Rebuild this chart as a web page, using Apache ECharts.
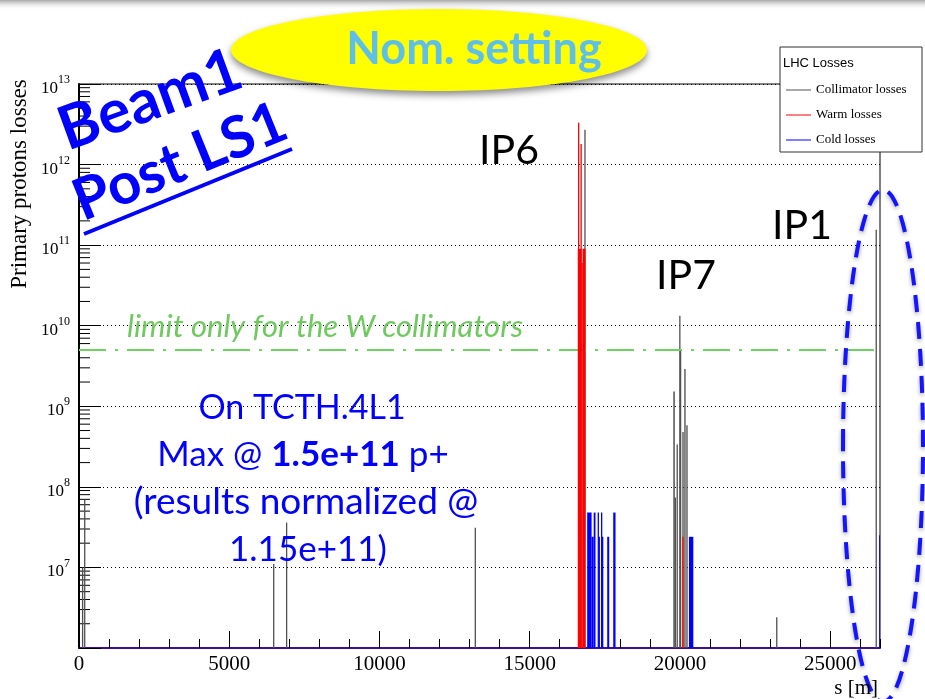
<!DOCTYPE html>
<html><head><meta charset="utf-8">
<script src="https://cdn.jsdelivr.net/npm/echarts@6/dist/echarts.min.js"></script>
<style>html,body{margin:0;padding:0;background:#fff}#c{width:925px;height:699px}</style>
</head><body><div id="c"></div>
<script>
// ---- data ----
const S_MAX = 26659;              // LHC circumference [m]
const Y_MIN = 1e6, Y_MAX = 1e13;
const xMajorTicks = [0, 5000, 10000, 15000, 20000, 25000];
const yDecades = [1e6, 1e7, 1e8, 1e9, 1e10, 1e11, 1e12, 1e13];
const wLimit = 5e9;               // limit only for the W collimators

// [s start, s end, losses]
const collimatorLosses = [
  [100, 140, 1.0e7], [190, 190, 6.9e7],
  [6480, 6480, 1.1e7], [6910, 6910, 3.6e7],
  [13190, 13190, 3.1e7],
  [16830, 16850, 2.7e12],
  [19780, 19830, 1.53e9], [19835, 19860, 7.4e7],
  [19890, 19930, 3.35e8], [19990, 20005, 1.33e10], [20005, 20040, 5.1e9],
  [20080, 20125, 4.8e8], [20145, 20190, 2.9e9], [20213, 20257, 5.8e8],
  [23223, 23223, 2.4e6],
  [26534, 26534, 1.55e11]
];
const warmLosses = [
  [16600, 16725, 9e10], [16725, 16760, 6e10], [16760, 16857, 9e10],
  [16620, 16640, 3.3e12], [16700, 16725, 1.8e12],
  [20095, 20105, 2.4e7]
];
const coldLosses = [
  [16913, 17060, 4.8e7], [17060, 17130, 2.4e7], [17130, 17190, 4.8e7],
  [17267, 17300, 4.8e7], [17300, 17333, 2.4e7],
  [17380, 17410, 4.8e7], [17410, 17447, 2.4e7],
  [17580, 17647, 2.4e7],
  [17780, 17857, 4.8e7],
  [20300, 20446, 2.4e7],
  [26645, 26659, 2.5e7]
];
const yMinorTicks = [];
yDecades.slice(0, -1).forEach(d => { for (let k = 2; k <= 9; k++) yMinorTicks.push([0, k * d]); });

// ---- chart ----
const chart = echarts.init(document.getElementById('c'));
const SERIF = 'Liberation Serif';
const C_COLL = '#505050', C_WARM = '#ff0000', C_COLD = '#0000ff';

function spikeRender(color) {
  return function (params, api) {
    const top = api.coord([api.value(0), api.value(2)]);
    const bot = api.coord([api.value(1), Y_MIN]);
    let x0 = top[0], w = bot[0] - top[0];
    if (w < 1.3) { x0 -= (1.3 - w) / 2; w = 1.3; }
    return { type: 'rect', shape: { x: x0, y: top[1], width: w, height: bot[1] - top[1] }, style: { fill: color } };
  };
}
function spikeSeries(name, data, color, z) {
  return { name, type: 'custom', data, encode: { x: [0, 1], y: 2 }, renderItem: spikeRender(color), clip: true, z, silent: true };
}

const option = {
  animation: false,
  backgroundColor: '#fff',
  grid: { left: 79, right: 45, top: 84, bottom: 51, show: true, borderColor: '#000', borderWidth: 1, backgroundColor: 'transparent' },
  xAxis: [{
    type: 'value', min: 0, max: S_MAX, interval: 5000, position: 'bottom',
    axisLine: { show: true, lineStyle: { color: '#40108f', width: 2 } },
    axisTick: { show: true, inside: true, length: 17, lineStyle: { color: '#000', width: 1 } },
    axisLabel: { color: '#000', fontFamily: SERIF, fontSize: 21, margin: 6, showMaxLabel: false,
      formatter: v => xMajorTicks.includes(v) ? String(v) : '' },
    splitLine: { show: false }
  }, {
    type: 'value', min: 0, max: S_MAX, interval: 1000, position: 'bottom',
    axisLine: { show: false }, axisLabel: { show: false }, splitLine: { show: false },
    axisTick: { show: true, inside: true, length: 9, lineStyle: { color: '#000', width: 1 } }
  }],
  yAxis: {
    type: 'log', logBase: 10, min: Y_MIN, max: Y_MAX, splitNumber: 7,
    axisLine: { show: true, lineStyle: { color: '#000', width: 2 } },
    axisTick: { show: true, inside: true, length: 22, lineStyle: { color: '#000', width: 1 } },
    splitLine: { show: true, lineStyle: { color: '#000', width: 1, type: [1, 3] } },
    axisLabel: {
      margin: 9, color: '#000',
      formatter: v => {
        const e = Math.round(Math.log10(v));
        if (e === 6) return '';
        return '{b|10}{s|' + e + '}';
      },
      rich: {
        b: { fontFamily: SERIF, fontSize: 17, color: '#000', lineHeight: 20, padding: [9, 0, 0, 0] },
        s: { fontFamily: SERIF, fontSize: 12, color: '#000', lineHeight: 14, verticalAlign: 'top' }
      }
    }
  },
  series: [
    { type: 'custom', name: 'minor', data: yMinorTicks, encode: { x: 0, y: 1 }, silent: true, z: 3,
      renderItem: (p, api) => { const c = api.coord([api.value(0), api.value(1)]);
        return { type: 'line', shape: { x1: c[0], y1: c[1], x2: c[0] + 11, y2: c[1] }, style: { stroke: '#000', lineWidth: 1 } }; } },
    spikeSeries('Collimator losses', collimatorLosses, C_COLL, 4),
    spikeSeries('Warm losses', warmLosses, C_WARM, 5),
    spikeSeries('Cold losses', coldLosses, C_COLD, 6),
    { type: 'line', name: 'limit', data: [], silent: true, z: 7,
      markLine: { symbol: 'none', silent: true, label: { show: false },
        lineStyle: { color: '#72cf66', width: 2, type: [27, 9, 3, 9] }, data: [{ yAxis: wLimit }] } }
  ],
  graphic: [
    // top shading
    { type: 'rect', z: 100, shape: { x: 0, y: 0, width: 925, height: 10 },
      style: { fill: new echarts.graphic.LinearGradient(0, 0, 0, 1, [{ offset: 0, color: '#a8a8a8' }, { offset: 1, color: 'rgba(255,255,255,0)' }]) } },
    // Nom. setting ellipse
    { type: 'ellipse', z: 100, shape: { cx: 439, cy: 50, rx: 208, ry: 41 },
      style: { fill: '#ffff00', shadowBlur: 7, shadowOffsetY: 4, shadowColor: 'rgba(0,0,0,0.45)' } },
    { type: 'text', z: 101, style: { text: 'Nom. setting', x: 474, y: 49, align: 'center', verticalAlign: 'middle',
      font: 'bold 45px Lato', fill: '#5ec0e8' } },
    // Beam1 / Post LS1
    { type: 'text', z: 101, x: 150, y: 100, rotation: 20 * Math.PI / 180,
      style: { text: 'Beam1', x: 0, y: 0, align: 'center', verticalAlign: 'middle', font: 'bold 61px Lato', fill: '#0000ff' } },
    { type: 'text', z: 101, x: 180, y: 162, rotation: 22 * Math.PI / 180,
      style: { text: 'Post LS1', x: 0, y: 0, align: 'center', verticalAlign: 'middle', font: 'bold 58px Lato', fill: '#0000ff' } },
    { type: 'line', z: 101, shape: { x1: 84, y1: 234, x2: 292, y2: 149 }, style: { stroke: '#0000ff', lineWidth: 4 } },
    // IP labels
    { type: 'text', z: 101, style: { text: 'IP6', x: 509, y: 151, align: 'center', verticalAlign: 'middle', font: '41px Lato', fill: '#000' } },
    { type: 'text', z: 101, style: { text: 'IP7', x: 686, y: 276, align: 'center', verticalAlign: 'middle', font: '41px Lato', fill: '#000' } },
    { type: 'text', z: 101, style: { text: 'IP1', x: 802, y: 226, align: 'center', verticalAlign: 'middle', font: '41px Lato', fill: '#000' } },
    // limit text
    { type: 'text', z: 101, style: { text: 'limit only for the W collimators', x: 127, y: 327, align: 'left', verticalAlign: 'middle',
      font: 'italic 31px Lato', fill: '#70c860' } },
    // TCTH note
    { type: 'text', z: 101, style: { text: 'On TCTH.4L1', x: 302, y: 408, align: 'center', verticalAlign: 'middle', font: '34px Lato', fill: '#0000ff' } },
    { type: 'text', z: 101, style: { text: '{n|Max @ }{b|1.5e+11}{n| p+}', x: 303, y: 455, align: 'center', verticalAlign: 'middle',
      rich: { n: { font: '35px Lato', fill: '#0000ff' }, b: { font: 'bold 35px Lato', fill: '#0000ff' } } } },
    { type: 'text', z: 101, style: { text: '(results normalized @', x: 306, y: 502, align: 'center', verticalAlign: 'middle', font: '37px Lato', fill: '#0000ff' } },
    { type: 'text', z: 101, style: { text: '1.15e+11)', x: 308, y: 550, align: 'center', verticalAlign: 'middle', font: '35px Lato', fill: '#0000ff' } },
    // dashed ellipse
    { type: 'ellipse', z: 101, shape: { cx: 883, cy: 446, rx: 40, ry: 256 },
      style: { fill: 'none', stroke: '#1414ff', lineWidth: 4, lineDash: [17, 10], shadowBlur: 4, shadowColor: 'rgba(0,0,0,0.35)', shadowOffsetY: 2 } },
    // axis titles
    { type: 'text', z: 101, x: 20, y: 184, rotation: Math.PI / 2,
      style: { text: 'Primary protons losses', x: 0, y: 0, align: 'center', verticalAlign: 'middle', font: '23px "Liberation Serif"', fill: '#000' } },
    { type: 'text', z: 101, style: { text: 's [m]', x: 878, y: 688, align: 'right', verticalAlign: 'middle', font: '21px "Liberation Serif"', fill: '#000' } },
    // legend
    { type: 'rect', z: 102, shape: { x: 780, y: 47, width: 142, height: 105 }, style: { fill: '#fff', stroke: '#333', lineWidth: 1 } },
    { type: 'text', z: 103, style: { text: 'LHC Losses', x: 783, y: 63, align: 'left', verticalAlign: 'middle', font: '13px "Liberation Sans"', fill: '#000' } },
    { type: 'line', z: 103, shape: { x1: 786, y1: 90, x2: 811, y2: 90 }, style: { stroke: C_COLL, lineWidth: 1 } },
    { type: 'text', z: 103, style: { text: 'Collimator losses', x: 816, y: 90, align: 'left', verticalAlign: 'middle', font: '13px "Liberation Serif"', fill: '#000' } },
    { type: 'line', z: 103, shape: { x1: 786, y1: 115, x2: 811, y2: 115 }, style: { stroke: C_WARM, lineWidth: 1 } },
    { type: 'text', z: 103, style: { text: 'Warm losses', x: 816, y: 115, align: 'left', verticalAlign: 'middle', font: '13px "Liberation Serif"', fill: '#000' } },
    { type: 'line', z: 103, shape: { x1: 786, y1: 140, x2: 811, y2: 140 }, style: { stroke: C_COLD, lineWidth: 1 } },
    { type: 'text', z: 103, style: { text: 'Cold losses', x: 816, y: 140, align: 'left', verticalAlign: 'middle', font: '13px "Liberation Serif"', fill: '#000' } }
  ]
};
chart.setOption(option);
</script></body></html>
